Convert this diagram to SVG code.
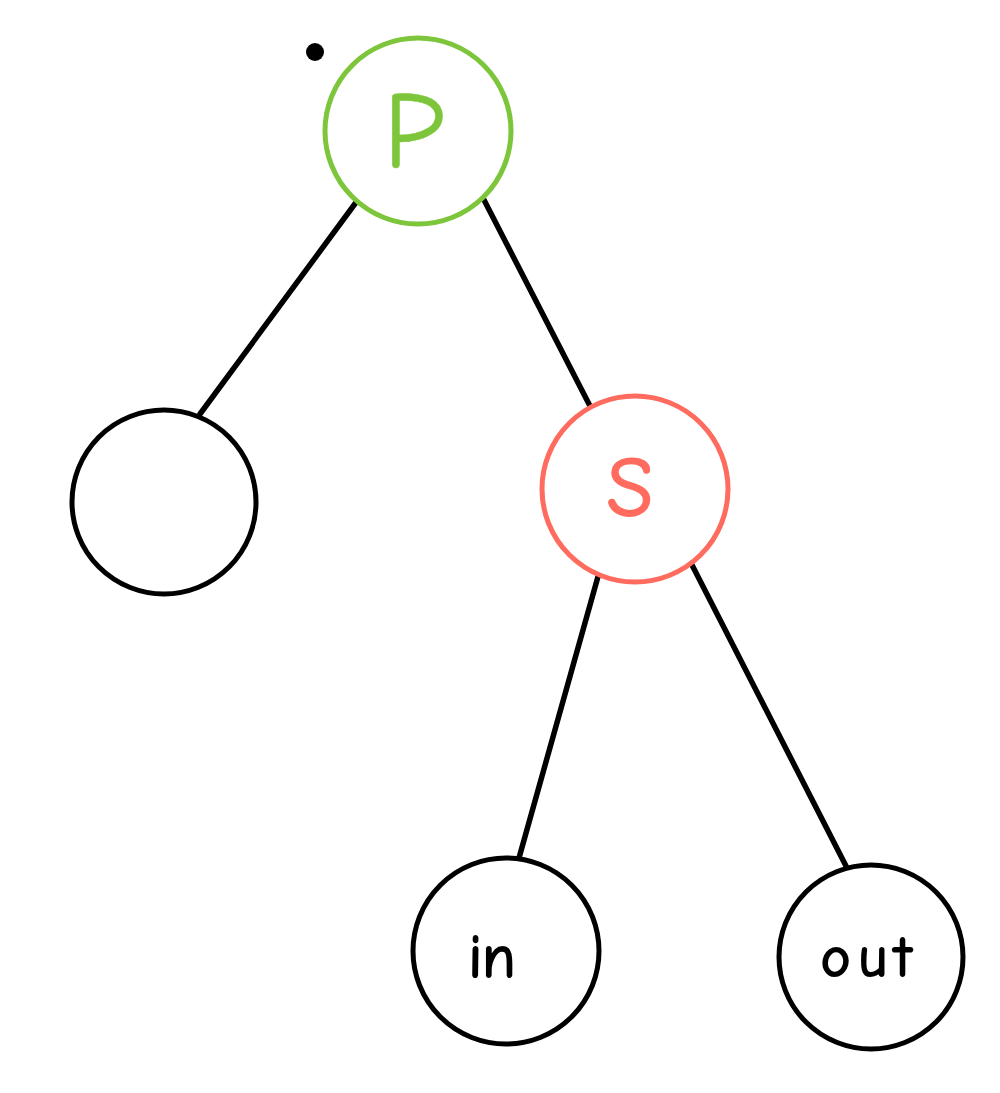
<svg xmlns="http://www.w3.org/2000/svg" width="1000" height="1093" viewBox="0 0 1000 1093">
<style>
.n{fill:#fff;stroke-width:5}
.k{stroke:#000}
.t{font-family:"Comic Neue","DejaVu Sans","Liberation Sans",sans-serif;text-anchor:middle}
.e{stroke:#000;stroke-width:5.5;fill:none;stroke-linecap:round}
</style>
<rect width="1000" height="1093" fill="#fff"/>
<g id="connectors">
<line class="e" x1="357" y1="201" x2="200" y2="414"/>
<line class="e" x1="482" y1="196" x2="590" y2="406"/>
<line class="e" x1="599" y1="573" x2="519" y2="858"/>
<line class="e" x1="691" y1="563" x2="846" y2="866"/>
</g>
<circle cx="315" cy="52" r="9" fill="#000"/>
<g id="node-p">
<circle class="n" cx="418" cy="131" r="93" stroke="#7dc63b"/>
<text class="t" x="414" y="167" font-size="110" fill="#7dc63b" stroke="#7dc63b" stroke-width="0.5">P</text>
</g>
<g id="node-left">
<circle class="n k" cx="164" cy="502" r="92"/>
</g>
<g id="node-s">
<circle class="n" cx="635" cy="489" r="93" stroke="#ff6b5e"/>
<text class="t" x="630" y="516" font-size="84" fill="#ff6b5e" stroke="#ff6b5e" stroke-width="2">S</text>
</g>
<g id="node-in">
<circle class="n k" cx="506" cy="951" r="93"/>
<text class="t" x="492" y="977" font-size="60" fill="#000" stroke="#000" stroke-width="2">in</text>
</g>
<g id="node-out">
<circle class="n k" cx="871" cy="957" r="92"/>
<text class="t" x="870" y="976" font-size="56" fill="#000" stroke="#000" stroke-width="2" letter-spacing="8">out</text>
</g>
</svg>
